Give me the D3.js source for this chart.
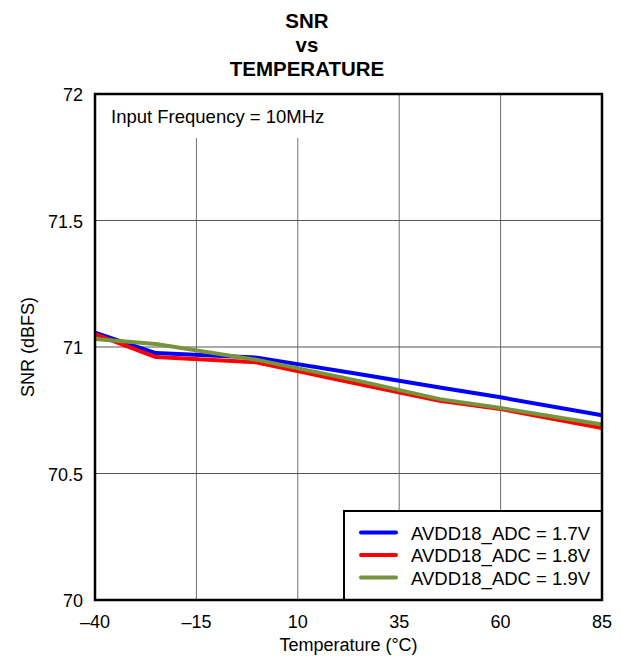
<!DOCTYPE html>
<html>
<head>
<meta charset="utf-8">
<script src="https://cdn.jsdelivr.net/npm/d3@7"></script>
<style>
  body { margin: 0; background: #fff; }
  svg text { font-family: Arial, "Liberation Sans", sans-serif; fill: #000; }
</style>
</head>
<body>
<svg id="chart" width="621" height="656"></svg>
<script>
const temps = [-40, -25, 0, 25, 45, 60, 85];
const snr17 = [71.057, 70.976, 70.958, 70.893, 70.840, 70.801, 70.730];
const snr18 = [71.051, 70.960, 70.939, 70.854, 70.787, 70.755, 70.680];
const snr19 = [71.032, 71.012, 70.949, 70.866, 70.794, 70.759, 70.694];

const seriesNames = ['AVDD18_ADC = 1.7V', 'AVDD18_ADC = 1.8V', 'AVDD18_ADC = 1.9V'];
const seriesColors = ['#0000ff', '#ff0000', '#77933c'];

const xTicks = [-40, -15, 10, 35, 60, 85];
const yTicks = [70, 70.5, 71, 71.5, 72];

const svg = d3.select('#chart');
const plotLeft = 95, plotRight = 602, plotTop = 94, plotBottom = 600;

const x = d3.scaleLinear().domain([-40, 85]).range([plotLeft, plotRight]);
const y = d3.scaleLinear().domain([70, 72]).range([plotBottom, plotTop]);

// title
const titleLines = ['SNR', 'vs', 'TEMPERATURE'];
const titleY = [28, 52, 76];
titleLines.forEach((t, i) => {
    svg.append('text')
        .attr('x', 307)
        .attr('y', titleY[i])
        .attr('text-anchor', 'middle')
        .attr('font-weight', 'bold')
        .attr('font-size', '20.5px')
        .text(t);
});

// grid
svg.append('g').selectAll('line')
    .data(xTicks.slice(1, -1))
    .join('line')
    .attr('x1', d => x(d)).attr('x2', d => x(d))
    .attr('y1', plotTop).attr('y2', plotBottom)
    .attr('stroke', '#6e6e6e').attr('stroke-width', 1);

svg.append('g').selectAll('line')
    .data(yTicks.slice(1, -1))
    .join('line')
    .attr('x1', plotLeft).attr('x2', plotRight)
    .attr('y1', d => y(d)).attr('y2', d => y(d))
    .attr('stroke', '#555').attr('stroke-width', 1);

// annotation with white background
svg.append('rect')
    .attr('x', plotLeft + 1).attr('y', plotTop + 1)
    .attr('width', 250).attr('height', 43)
    .attr('fill', '#fff');
svg.append('text')
    .attr('x', 111).attr('y', 123)
    .attr('font-size', '18.5px')
    .text('Input Frequency = 10MHz');

// lines
const allSeries = [snr17, snr18, snr19];
const line = d3.line()
    .x((d, i) => x(temps[i]))
    .y(d => y(d));

allSeries.forEach((s, k) => {
    svg.append('path')
        .datum(s)
        .attr('d', line)
        .attr('fill', 'none')
        .attr('stroke', seriesColors[k])
        .attr('stroke-width', 4)
        .attr('stroke-linejoin', 'round');
});

// axes labels
svg.append('g').selectAll('text')
    .data(xTicks)
    .join('text')
    .attr('x', d => x(d))
    .attr('y', 628)
    .attr('text-anchor', 'middle')
    .attr('font-size', '18px')
    .text(d => d < 0 ? '\u2013' + Math.abs(d) : d);

svg.append('g').selectAll('text')
    .data(yTicks)
    .join('text')
    .attr('x', 83)
    .attr('y', d => y(d) + 7)
    .attr('text-anchor', 'end')
    .attr('font-size', '18px')
    .text(d => d);

svg.append('text')
    .attr('x', x(22.5)).attr('y', 651)
    .attr('text-anchor', 'middle')
    .attr('font-size', '18px')
    .text('Temperature (\u00B0C)');

svg.append('text')
    .attr('transform', `translate(34,${y(71)}) rotate(-90)`)
    .attr('text-anchor', 'middle')
    .attr('font-size', '18px')
    .text('SNR (dBFS)');

// legend
const lg = svg.append('g');
lg.append('rect')
    .attr('x', 344).attr('y', 511)
    .attr('width', plotRight - 344).attr('height', plotBottom - 511)
    .attr('fill', '#fff').attr('stroke', '#000').attr('stroke-width', 2);
seriesNames.forEach((name, i) => {
    const ly = 532.5 + i * 22.5;
    lg.append('line')
        .attr('x1', 361).attr('x2', 396)
        .attr('y1', ly).attr('y2', ly)
        .attr('stroke', seriesColors[i]).attr('stroke-width', 4)
        .attr('stroke-linecap', 'round');
    lg.append('text')
        .attr('x', 411).attr('y', ly + 7)
        .attr('font-size', '18.5px')
        .text(name);
});

// frame
svg.append('rect')
    .attr('x', plotLeft).attr('y', plotTop)
    .attr('width', plotRight - plotLeft).attr('height', plotBottom - plotTop)
    .attr('fill', 'none').attr('stroke', '#000').attr('stroke-width', 2.5);
</script>
</body>
</html>
